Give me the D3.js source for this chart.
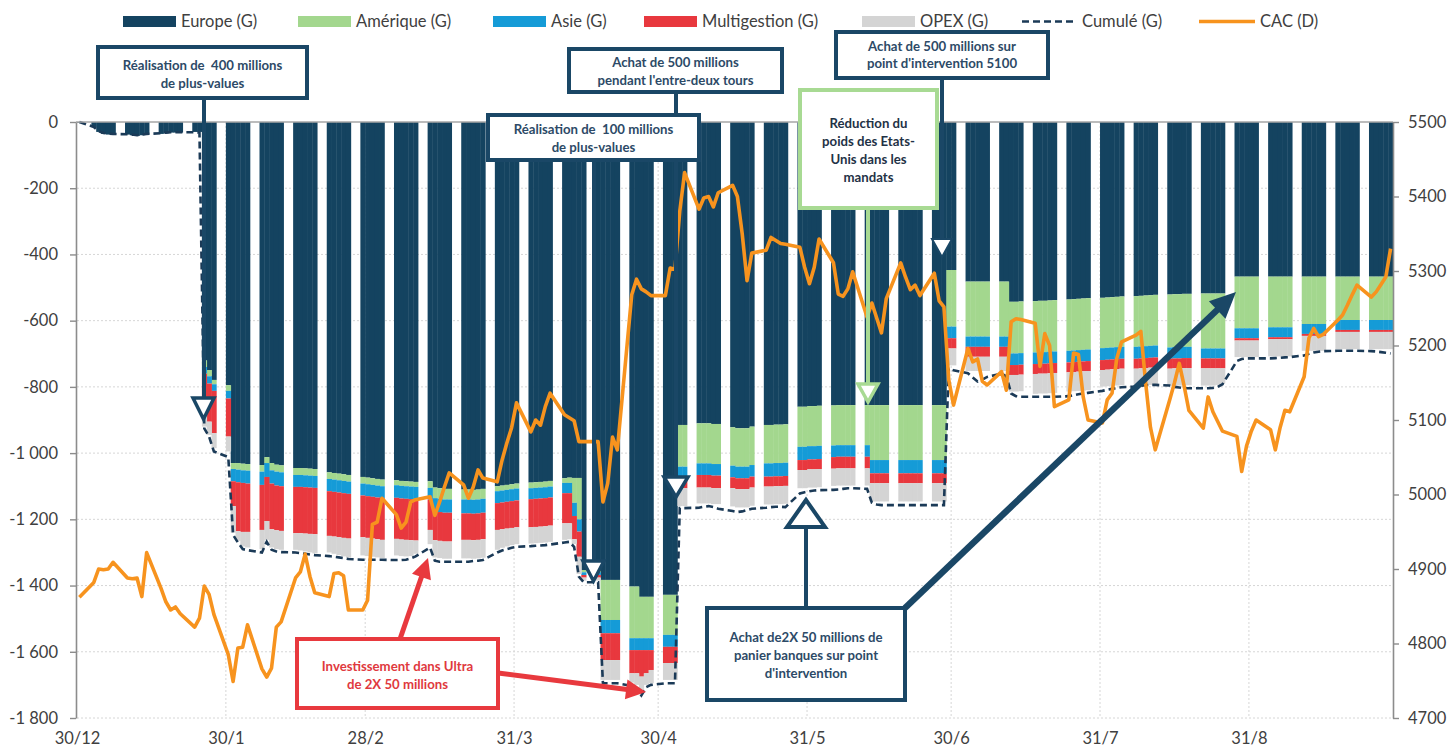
<!DOCTYPE html>
<meta charset="utf-8">
<script src="https://d3js.org/d3.v7.min.js"></script>
<style>
  body { margin: 0; background: #fff; }
  svg text { font-family: Lato, "Open Sans", sans-serif; }
</style>
<div id="chart"></div>
<script>

// one value per trading day (30/12/2016, then one row per week Mon-Fri up to 29/09/2017)
var firstDay = new Date(2016, 11, 30),
    lastDay = new Date(2017, 8, 29);

var europe = [
 -2,
 -15,-30,-36,-38,-38,
 -38,-40,-42,-40,-38,
 -36,-34,-32,-32,-32,
 -30,-30,-720,-749,-779,
 -795,-1030,-1030,-1032,-1033,
 -1036,-1012,-1030,-1035,-1037,
 -1045,-1045,-1046,-1047,-1048,
 -1058,-1060,-1062,-1064,-1066,
 -1072,-1074,-1076,-1078,-1080,
 -1082,-1084,-1085,-1086,-1087,
 -1085,-1104,-1106,-1108,-1108,
 -1110,-1110,-1111,-1110,-1108,
 -1100,-1098,-1096,-1094,-1092,
 -1089,-1088,-1087,-1086,-1084,
 -1076,-1074,-1075,-1075,-1353,
 -1353,-1383,-1383,-1383,-1383,
 -1403,-1403,-1434,-1434,-1434,
 -1428,-1428,-1428,-915,-915,
 -910,-910,-910,-912,-912,
 -922,-925,-925,-925,-920,
 -915,-915,-914,-914,-913,
 -860,-860,-858,-858,-857,
 -856,-855,-855,-855,-855,
 -855,-855,-855,-855,-855,
 -855,-855,-855,-855,-855,
 -855,-855,-855,-447,-447,
 -482,-482,-482,-482,-482,
 -482,-482,-543,-543,-542,
 -541,-540,-540,-539,-538,
 -536,-535,-534,-533,-532,
 -531,-530,-529,-528,-527,
 -526,-525,-524,-523,-522,
 -521,-520,-520,-519,-519,
 -518,-518,-518,-518,-518,
 -467,-467,-467,-467,-467,
 -467,-467,-467,-467,-467,
 -467,-467,-467,-467,-467,
 -467,-467,-467,-467,-467,
 -467,-467,-467,-467,-467
];

var amerique = [
 0,
 0,0,0,0,0,
 0,0,0,0,0,
 0,0,0,0,0,
 0,0,-20,-19,-13,
 -17,-18,-20,-20,-20,
 -20,-18,-22,-21,-21,
 -21,-21,-21,-21,-21,
 -20,-20,-20,-20,-20,
 -20,-20,-20,-20,-20,
 -15,-15,-15,-15,-15,
 -20,-32,-32,-32,-32,
 -30,-30,-30,-30,-30,
 -15,-15,-15,-15,-15,
 -17,-17,-17,-17,-17,
 -14,-16,-75,-125,-7,
 -7,-121,-121,-121,-121,
 -156,-156,-125,-125,-125,
 -121,-121,-121,-126,-126,
 -121,-121,-121,-121,-121,
 -116,-116,-116,-116,-116,
 -116,-116,-116,-116,-116,
 -121,-121,-121,-121,-121,
 -121,-121,-121,-121,-121,
 -121,-166,-166,-166,-166,
 -166,-166,-166,-166,-166,
 -166,-166,-166,-171,-171,
 -166,-166,-166,-166,-166,
 -166,-166,-156,-156,-156,
 -155,-155,-155,-155,-155,
 -155,-155,-155,-155,-155,
 -152,-152,-152,-152,-152,
 -153,-153,-153,-153,-153,
 -160,-160,-160,-160,-160,
 -166,-166,-166,-166,-166,
 -156,-156,-156,-156,-156,
 -153,-153,-153,-153,-153,
 -143,-143,-143,-143,-143,
 -131,-131,-131,-131,-131,
 -131,-131,-131,-131,-131
];

var asie = [
 0,
 0,0,0,0,0,
 0,0,0,0,0,
 0,0,0,0,0,
 0,0,-20,-22,-20,
 -23,-37,-38,-38,-39,
 -40,-42,-40,-42,-42,
 -36,-36,-36,-36,-36,
 -37,-37,-37,-37,-37,
 -36,-36,-36,-36,-36,
 -38,-38,-38,-38,-38,
 -35,-40,-40,-40,-40,
 -42,-42,-42,-42,-42,
 -36,-36,-36,-36,-36,
 -33,-33,-33,-33,-33,
 -31,-31,-40,-37,-8,
 -8,-40,-40,-40,-40,
 -36,-36,-36,-36,-36,
 -36,-36,-36,-30,-30,
 -35,-35,-35,-35,-35,
 -35,-35,-35,-35,-35,
 -40,-40,-40,-40,-40,
 -40,-40,-40,-40,-40,
 -35,-35,-35,-35,-35,
 -35,-40,-40,-40,-40,
 -40,-40,-40,-40,-40,
 -40,-40,-40,-35,-35,
 -31,-31,-31,-31,-31,
 -31,-31,-35,-35,-35,
 -35,-35,-35,-35,-35,
 -35,-35,-35,-35,-35,
 -36,-36,-36,-36,-36,
 -36,-36,-36,-36,-36,
 -34,-34,-34,-34,-34,
 -30,-30,-30,-30,-30,
 -30,-30,-30,-30,-30,
 -30,-30,-30,-30,-30,
 -30,-30,-30,-30,-30,
 -30,-30,-30,-30,-30,
 -30,-30,-30,-30,-30
];

var multigestion = [
 0,
 0,0,0,0,0,
 0,0,0,0,0,
 0,0,0,0,0,
 0,0,-120,-115,-128,
 -115,-75,-148,-148,-146,
 -136,-133,-138,-135,-135,
 -140,-140,-140,-140,-140,
 -135,-135,-135,-135,-135,
 -126,-126,-126,-126,-126,
 -124,-124,-124,-124,-124,
 -92,-87,-87,-87,-87,
 -80,-80,-80,-80,-80,
 -81,-81,-81,-81,-81,
 -85,-85,-85,-85,-85,
 -91,-91,-70,-76,-8,
 -8,-81,-81,-81,-81,
 -70,-70,-80,-70,-60,
 -49,-49,-49,-35,-35,
 -38,-38,-38,-38,-38,
 -33,-33,-33,-33,-33,
 -30,-30,-30,-30,-30,
 -30,-30,-30,-30,-30,
 -35,-35,-35,-35,-35,
 -35,-30,-30,-30,-30,
 -30,-30,-30,-30,-30,
 -30,-30,-30,-31,-31,
 -30,-30,-30,-30,-30,
 -30,-30,-30,-30,-30,
 -30,-30,-30,-30,-30,
 -30,-30,-30,-30,-30,
 -30,-30,-30,-30,-30,
 -30,-30,-30,-30,-30,
 -30,-30,-30,-30,-30,
 -30,-30,-30,-30,-30,
 -7,-7,-7,-7,-7,
 -6,-6,-6,-6,-6,
 -6,-6,-6,-6,-6,
 -6,-6,-6,-6,-6,
 -6,-6,-6,-6,-6
];

var opex = [
 0,
 0,0,0,0,0,
 0,0,0,0,0,
 0,0,0,0,0,
 0,0,-40,-40,-45,
 -45,-80,-29,-44,-47,
 -58,-57,-55,-57,-57,
 -50,-52,-54,-56,-58,
 -50,-52,-54,-56,-58,
 -55,-55,-55,-55,-55,
 -50,-50,-50,-48,-40,
 -43,-52,-52,-52,-52,
 -56,-56,-56,-56,-56,
 -60,-56,-54,-52,-51,
 -49,-49,-49,-49,-49,
 -50,-48,-15,-52,-9,
 -9,-60,-60,-60,-60,
 -28,-35,-45,-35,-40,
 -51,-51,-51,-54,-54,
 -48,-48,-48,-48,-48,
 -55,-55,-55,-55,-55,
 -54,-54,-54,-54,-54,
 -55,-55,-55,-55,-55,
 -52,-52,-52,-52,-52,
 -52,-55,-55,-55,-55,
 -55,-55,-55,-55,-55,
 -55,-55,-55,-51,-51,
 -43,-43,-43,-43,-43,
 -43,-43,-50,-50,-50,
 -60,-60,-60,-60,-60,
 -58,-58,-58,-58,-58,
 -50,-50,-50,-50,-50,
 -52,-52,-52,-52,-52,
 -52,-52,-52,-52,-52,
 -52,-52,-52,-50,-45,
 -50,-50,-50,-50,-50,
 -52,-52,-52,-52,-52,
 -45,-45,-45,-45,-45,
 -52,-52,-52,-52,-52,
 -52,-52,-52,-52,-52
];

var cumule = [
 0,
 -15,-28,-33,-35,-36,
 -37,-38,-40,-38,-36,
 -34,-32,-31,-31,-31,
 -31,-32,-925,-950,-995,
 -1012,-1247,-1270,-1290,-1293,
 -1300,-1268,-1292,-1297,-1299,
 -1300,-1302,-1304,-1306,-1308,
 -1311,-1313,-1315,-1317,-1320,
 -1322,-1322,-1322,-1322,-1322,
 -1323,-1323,-1322,-1318,-1312,
 -1285,-1325,-1328,-1328,-1328,
 -1328,-1328,-1326,-1325,-1323,
 -1300,-1294,-1290,-1286,-1283,
 -1281,-1280,-1279,-1278,-1276,
 -1270,-1268,-1283,-1373,-1390,
 -1390,-1695,-1695,-1695,-1695,
 -1703,-1712,-1732,-1707,-1700,
 -1695,-1695,-1695,-1166,-1166,
 -1165,-1162,-1160,-1163,-1168,
 -1175,-1178,-1176,-1172,-1168,
 -1165,-1163,-1162,-1162,-1163,
 -1122,-1118,-1115,-1113,-1112,
 -1111,-1110,-1108,-1106,-1106,
 -1108,-1150,-1155,-1157,-1157,
 -1157,-1157,-1157,-1157,-1157,
 -1157,-1157,-1157,-744,-750,
 -759,-772,-784,-778,-770,
 -760,-768,-820,-828,-830,
 -830,-830,-830,-830,-830,
 -828,-825,-822,-820,-818,
 -812,-809,-806,-803,-801,
 -799,-797,-795,-794,-794,
 -796,-800,-802,-804,-804,
 -804,-804,-803,-800,-792,
 -722,-716,-714,-714,-714,
 -714,-713,-712,-711,-710,
 -705,-700,-696,-694,-692,
 -691,-691,-691,-691,-691,
 -692,-693,-695,-697,-699
];

var cac = [
 4862,
 4882,4900,4899,4900,4909,
 4888,4887,4888,4863,4922,
 4874,4856,4845,4849,4840,
 4822,4834,4877,4866,4839,
 4785,4749,4794,4795,4825,
 4766,4755,4767,4822,4829,
 4888,4896,4920,4890,4868,
 4863,4894,4895,4891,4845,
 4845,4858,4960,4963,4995,
 4973,4955,4963,4990,4993,
 4997,4972,4990,5010,5029,
 5013,4995,5010,5033,5022,
 5017,5046,5069,5090,5123,
 5084,5100,5093,5118,5136,
 5107,5103,5099,5071,5071,
 5071,4990,5015,5077,5060,
 5268,5289,5276,5272,5267,
 5267,5304,5302,5380,5432,
 5383,5398,5400,5386,5405,
 5415,5400,5350,5287,5324,
 5328,5345,5341,5337,5336,
 5332,5305,5283,5305,5343,
 5311,5269,5266,5276,5299,
 5238,5257,5237,5217,5263,
 5311,5292,5275,5281,5267,
 5297,5260,5252,5154,5120,
 5196,5178,5182,5152,5147,
 5165,5140,5232,5236,5235,
 5230,5172,5216,5200,5118,
 5127,5190,5188,5131,5100,
 5096,5127,5136,5183,5205,
 5214,5219,5150,5090,5060,
 5127,5150,5176,5146,5113,
 5089,5131,5111,5098,5085,
 5078,5031,5065,5085,5100,
 5087,5060,5090,5113,5111,
 5158,5210,5223,5212,5215,
 5234,5241,5254,5268,5281,
 5265,5272,5282,5292,5330
];

var seriesKeys = ["europe", "amerique", "asie", "multigestion", "opex"];
var seriesLabels = ["Europe (G)", "Amérique (G)", "Asie (G)", "Multigestion (G)", "OPEX (G)"];
var seriesColors = ["#144360", "#a3d78e", "#159bd7", "#e8383e", "#d4d4d4"];

var tickDates = [new Date(2016,11,30), new Date(2017,0,30), new Date(2017,1,28), new Date(2017,2,31),
                 new Date(2017,3,30), new Date(2017,4,31), new Date(2017,5,30), new Date(2017,6,31), new Date(2017,7,31)];
var leftTicks = [0, -200, -400, -600, -800, -1000, -1200, -1400, -1600, -1800];
var rightTicks = [4700, 4800, 4900, 5000, 5100, 5200, 5300, 5400, 5500];

var days = d3.timeDay.range(firstDay, d3.timeDay.offset(lastDay, 1))
  .filter(function(d) { return d.getDay() > 0 && d.getDay() < 6; });

var table = days.map(function(d, i) {
  return {date: d, europe: europe[i], amerique: amerique[i], asie: asie[i],
          multigestion: multigestion[i], opex: opex[i], cumule: cumule[i], cac: cac[i]};
});

var W = 1451, H = 751;
var svg = d3.select("#chart").append("svg").attr("width", W).attr("height", H);

var x = d3.scaleTime().domain([new Date(2016,11,30), new Date(2017,8,30)]).range([77, 1393]);
var yL = d3.scaleLinear().domain([-1800, 0]).range([718, 122]);
var yR = d3.scaleLinear().domain([4700, 5500]).range([718, 122]);

function dayW(d) { return x(d3.timeDay.offset(d, 1)) - x(d); }
function cx(d) { return x(d) + dayW(d) / 2; }

var frLocale = d3.formatLocale({decimal: ",", thousands: "\u00a0", grouping: [3], currency: ["", ""], minus: "-"});
var fmt = frLocale.format(",.0f");

// grid
var grid = svg.append("g");
grid.selectAll(".hg").data(leftTicks.slice(1)).enter().append("line")
  .attr("x1", 77).attr("x2", 1393)
  .attr("y1", function(d){ return yL(d); }).attr("y2", function(d){ return yL(d); })
  .attr("stroke", "#d6d6d6").attr("stroke-dasharray", "2,2");
grid.selectAll(".vg").data(tickDates.slice(1)).enter().append("line")
  .attr("x1", function(d){ return x(d); }).attr("x2", function(d){ return x(d); })
  .attr("y1", 122).attr("y2", 718)
  .attr("stroke", "#d6d6d6").attr("stroke-dasharray", "2,2");

// stacked bars
var stacked = d3.stack().keys(seriesKeys).offset(d3.stackOffsetDiverging)(table);

svg.append("g").selectAll("g")
  .data(stacked).enter().append("g")
    .attr("fill", function(d, i){ return seriesColors[i]; })
  .selectAll("rect")
  .data(function(d){ return d; })
  .enter().append("rect")
    .attr("x", function(d){ return x(d.data.date); })
    .attr("width", function(d){ return dayW(d.data.date) + 0.4; })
    .attr("y", function(d){ return yL(d[1]); })
    .attr("height", function(d){ return Math.max(0, yL(d[0]) - yL(d[1])); });

// cumulative dashed line
svg.append("path").datum(table)
  .attr("fill", "none").attr("stroke", "#1b3a57").attr("stroke-width", 2.6)
  .attr("stroke-dasharray", "7,4")
  .attr("d", d3.line().x(function(d){ return cx(d.date); }).y(function(d){ return yL(d.cumule); }));

// CAC line
svg.append("path").datum(table)
  .attr("fill", "none").attr("stroke", "#f7931e").attr("stroke-width", 3.6)
  .attr("stroke-linejoin", "round")
  .attr("d", d3.line().x(function(d){ return cx(d.date); }).y(function(d){ return yR(d.cac); }));

// axes
svg.append("line").attr("x1", 76).attr("x2", 1393).attr("y1", 122).attr("y2", 122)
  .attr("stroke", "#a6a6a6").attr("stroke-width", 1.5);

var axL = svg.append("g").attr("transform", "translate(76,0)")
  .call(d3.axisLeft(yL).tickValues(leftTicks).tickSize(6).tickSizeOuter(0).tickPadding(12).tickFormat(fmt));
var axR = svg.append("g").attr("transform", "translate(1393,0)")
  .call(d3.axisRight(yR).tickValues(rightTicks).tickSize(6).tickSizeOuter(0).tickPadding(9).tickFormat(d3.format("d")));
var axB = svg.append("g").attr("transform", "translate(0,718)")
  .call(d3.axisBottom(x).tickValues(tickDates).tickSize(0).tickPadding(14).tickFormat(d3.timeFormat("%-d/%-m")));
axB.select(".domain").remove();
[axL, axR].forEach(function(a){
  a.select(".domain").attr("stroke", "#8c8c8c").attr("stroke-width", 1.6);
  a.selectAll(".tick line").attr("stroke", "#8c8c8c").attr("stroke-width", 1.4);
});
[axL, axR, axB].forEach(function(a){
  a.selectAll("text").attr("font-size", 16.5).attr("fill", "#404040").attr("font-family", "Lato, sans-serif");
});

// annotations
var navy = "#1a4766", txt = "#2d4a67", green = "#a8da93", red = "#e8393e";
var ann = svg.append("g");

function seg(x1, y1, x2, y2, color, w) {
  ann.append("line").attr("x1", x1).attr("y1", y1).attr("x2", x2).attr("y2", y2)
    .attr("stroke", color).attr("stroke-width", w);
}
function tri(pts, color, w) {
  ann.append("polygon").attr("points", pts.map(function(p){ return p.join(","); }).join(" "))
    .attr("fill", "#fff").attr("stroke", color).attr("stroke-width", w).attr("stroke-linejoin", "miter");
}
function box(x0, y0, x1, y1, color, lines, tcolor, firstY, step) {
  ann.append("rect").attr("x", x0).attr("y", y0).attr("width", x1 - x0).attr("height", y1 - y0)
    .attr("fill", "#fff").attr("stroke", color).attr("stroke-width", 4);
  lines.forEach(function(l, i) {
    ann.append("text").attr("x", (x0 + x1) / 2).attr("y", firstY + i * step)
      .attr("text-anchor", "middle").attr("font-size", 13.2).attr("font-weight", "bold")
      .style("white-space", "pre")
      .attr("fill", tcolor).text(l);
  });
}
function arrow(x1, y1, x2, y2, color, w, hl, hw) {
  var dx = x2 - x1, dy = y2 - y1, L = Math.sqrt(dx*dx + dy*dy), ux = dx / L, uy = dy / L;
  var bx = x2 - ux * hl, by = y2 - uy * hl;
  seg(x1, y1, bx + ux, by + uy, color, w);
  ann.append("polygon").attr("fill", color)
    .attr("points", [[x2, y2], [bx - uy * hw, by + ux * hw], [bx + uy * hw, by - ux * hw]].map(function(p){ return p.join(","); }).join(" "));
}

// connectors and markers
seg(204, 98, 204, 398, navy, 4);
tri([[193,398],[214,398],[203.5,419]], navy, 3.5);

seg(594, 160, 594, 561, navy, 4);
tri([[583,561],[604,561],[593.5,581]], navy, 3.5);

seg(676, 92, 676, 477, navy, 4);
tri([[664,477],[688,477],[676,497]], navy, 3.5);

seg(942, 78, 942, 239, navy, 4);
tri([[932,239],[952,239],[942,257]], navy, 2);

seg(868, 208, 868, 384, green, 4);
tri([[858,384],[878,384],[868,402]], green, 3.5);

seg(806, 527, 806, 608, navy, 4);
tri([[806,500],[787,527],[825,527]], navy, 4);

arrow(905, 608, 1236, 292, navy, 6.5, 26, 12);
arrow(400, 639, 428, 558, red, 5, 20, 10);
arrow(498, 673, 646, 692, red, 5, 20, 10);

// boxes
box(98, 47, 307, 98, navy, ["Réalisation de  400 millions", "de plus-values"], txt, 70, 18);
box(488, 115, 699, 160, navy, ["Réalisation de  100 millions", "de plus-values"], txt, 134, 18);
box(569, 49, 782, 92, navy, ["Achat de 500 millions", "pendant l'entre-deux tours"], txt, 67, 18);
box(836, 32, 1048, 78, navy, ["Achat de 500 millions sur", "point d'intervention 5100"], txt, 51, 17);
box(800, 90, 937, 208, green, ["Réduction du", "poids des Etats-", "Unis dans les", "mandats"], "#1f3246", 128, 18);
box(707, 608, 905, 700, navy, ["Achat de2X 50 millions de", "panier banques sur point", "d'intervention"], txt, 642, 18);
box(297, 639, 498, 708, red, ["Investissement dans Ultra", "de 2X 50 millions"], "#e0393e", 671, 18);

// legend
var leg = svg.append("g");
var legX = [123, 298, 493, 644, 862];
seriesKeys.forEach(function(k, i) {
  leg.append("rect").attr("x", legX[i]).attr("y", 16).attr("width", 53).attr("height", 11).attr("fill", seriesColors[i]);
  leg.append("text").attr("x", legX[i] + 58).attr("y", 27).attr("font-size", 16.5).attr("fill", "#404040").text(seriesLabels[i]);
});
leg.append("line").attr("x1", 1022).attr("x2", 1077).attr("y1", 21.5).attr("y2", 21.5)
  .attr("stroke", "#1b3a57").attr("stroke-width", 2.6).attr("stroke-dasharray", "7,4");
leg.append("text").attr("x", 1082).attr("y", 27).attr("font-size", 16.5).attr("fill", "#404040").text("Cumulé (G)");
leg.append("line").attr("x1", 1199).attr("x2", 1255).attr("y1", 21.5).attr("y2", 21.5)
  .attr("stroke", "#f7931e").attr("stroke-width", 3.6);
leg.append("text").attr("x", 1260).attr("y", 27).attr("font-size", 16.5).attr("fill", "#404040").text("CAC (D)");

</script>
